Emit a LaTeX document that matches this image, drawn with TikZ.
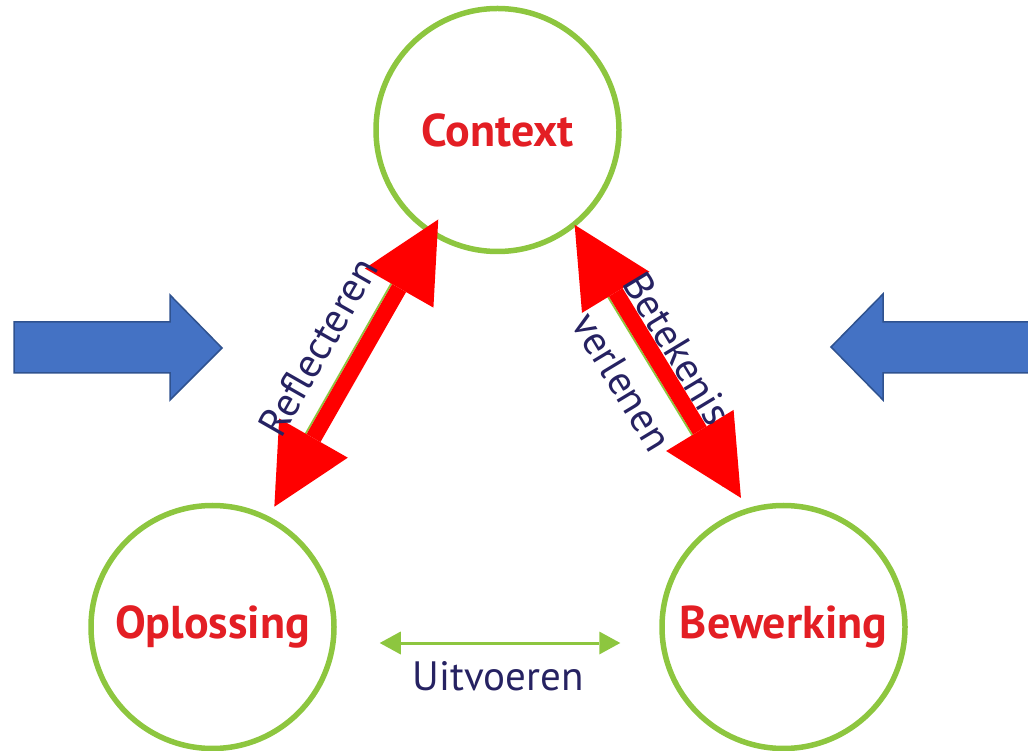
\documentclass[tikz,border=0pt]{standalone}
\usepackage{fontspec}
\setmainfont{PT Sans}
\usetikzlibrary{arrows.meta}
\definecolor{ringgreen}{RGB}{141,198,63}
\definecolor{wordred}{RGB}{227,30,36}
\definecolor{labelblue}{RGB}{38,34,98}
\definecolor{blockblue}{RGB}{68,114,196}
\definecolor{blockedge}{RGB}{47,82,143}

\begin{document}
\begin{tikzpicture}[x=1pt, y=1pt,
		phase/.style={circle, draw=ringgreen, line width=5.5pt, minimum size=243pt, inner sep=0pt, text=wordred, font=\fontsize{46}{52}\selectfont\bfseries},
		redarrow/.style={draw=red, line width=16pt, {Triangle[width=79pt,length=79pt,line width=0pt]}-{Triangle[width=79pt,length=79pt,line width=0pt]}},
		greenarrow/.style={draw=ringgreen, line width=3pt, {Triangle[width=23pt,length=21pt,line width=0pt]}-{Triangle[width=23pt,length=21pt,line width=0pt]}},
		thinline/.style={draw=ringgreen, line width=1.8pt},
		lbl/.style={text=labelblue, font=\fontsize{41}{64}\selectfont},
		blockarrow/.style={fill=blockblue, draw=blockedge, line width=1.5pt, line join=miter}]
				\useasboundingbox (0,0) rectangle (1028,750);
				\node[phase] (context) at (497.5,620) {Context};
				\node[phase] (oplossing) at (212.5,123) {Oplossing};
				\node[phase] (bewerking) at (783.5,123) {Bewerking};
				\draw[blockarrow] (14,428) -- (170,428) -- (170,455) -- (222,402) -- (170,350) -- (170,377) -- (14,377) -- cycle;
				\draw[blockarrow] (1035,428) -- (883,428) -- (883,456) -- (831,403) -- (883,350) -- (883,377) -- (1035,377) -- cycle;
				\draw[thinline, shorten <=5pt, shorten >=30pt] ([shift={(-7.8,4.5)}]context.237) -- ([shift={(-7.8,4.5)}]oplossing.63);
				\draw[thinline, shorten <=17pt, shorten >=31pt] ([shift={(-7.7,-4.6)}]context.309) -- ([shift={(-7.7,-4.6)}]bewerking.107);
				\draw[redarrow, shorten <=-17pt, shorten >=11pt] (context.237) -- (oplossing.63);
				\draw[redarrow, shorten <=-2pt, shorten >=12pt] (context.309) -- (bewerking.107);
				\draw[greenarrow, shorten <=43pt, shorten >=39pt] ([yshift=-16pt]oplossing.east) -- ([yshift=-16pt]bewerking.west) node[midway, yshift=-33pt, lbl] (uitvoeren) {Uitvoeren};
				\node[lbl, rotate=60.3] (reflecteren) at (318,403) {Reflecteren};
				\node[lbl, rotate=-58.9, align=center] (betekenis) at (650,385) {Betekenis\\verlenen};
			\end{tikzpicture}
\end{document}
